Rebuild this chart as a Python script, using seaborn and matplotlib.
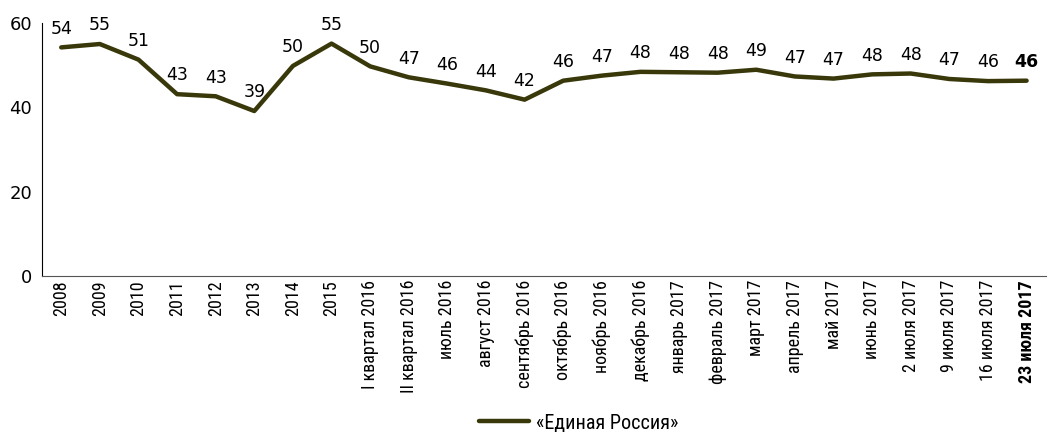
import pandas as pd
import seaborn as sns
import matplotlib.pyplot as plt
import numpy as np

# Данные
periods = ["2008", "2009", "2010", "2011", "2012", "2013", "2014", "2015",
           "I квартал 2016", "II квартал 2016", "июль 2016", "август 2016",
           "сентябрь 2016", "октябрь 2016", "ноябрь 2016", "декабрь 2016",
           "январь 2017", "февраль 2017", "март 2017", "апрель 2017", "май 2017",
           "июнь 2017", "2 июля 2017", "9 июля 2017", "16 июля 2017", "23 июля 2017"]
values = [54.2, 55.0, 51.3, 43.1, 42.6, 39.1, 49.8, 55.1, 49.7, 47.1, 45.6, 44.0,
          41.8, 46.3, 47.5, 48.4, 48.3, 48.2, 48.9, 47.3, 46.8, 47.8, 48.0, 46.7,
          46.2, 46.3]
labels = [54, 55, 51, 43, 43, 39, 50, 55, 50, 47, 46, 44, 42, 46, 47, 48, 48, 48,
          49, 47, 47, 48, 48, 47, 46, 46]

df = pd.DataFrame({"period": periods, "value": values})

sns.set_style("white")
plt.rcParams['font.family'] = ['Roboto Condensed', 'Fira Sans Condensed', 'DejaVu Sans']
plt.rcParams['text.color'] = 'black'
plt.rcParams['xtick.color'] = 'black'
plt.rcParams['ytick.color'] = 'black'

fig = plt.figure(figsize=(10.48, 4.33), dpi=100)
ax = fig.add_axes([0.040, 0.363, 0.958, 0.584])

line_color = "#38380a"
sns.lineplot(data=df, x="period", y="value", sort=False, color=line_color,
             linewidth=3.2, ax=ax, label="«Единая Россия»")

# подписи значений
for i, (v, lab) in enumerate(zip(values, labels)):
    bold = i == len(values) - 1
    ax.annotate(str(lab), (i, v), xytext=(0, 7), textcoords="offset points",
                ha="center", va="bottom", fontsize=12.5,
                fontweight="bold" if bold else "normal",
                family=['DejaVu Sans'])

ax.set_ylim(0, 60)
ax.set_xlim(-0.5, len(periods) - 0.5)
ax.set_yticks([0, 20, 40, 60])
ax.set_xticks(range(len(periods)))
ax.set_xticklabels(periods, rotation=90, fontsize=13)
ax.get_xticklabels()[-1].set_fontweight("bold")
ax.set_xticks(np.arange(-0.5, len(periods), 1), minor=True)
ax.tick_params(axis="x", which="major", length=0, pad=3)
ax.tick_params(axis="x", which="minor", length=4, width=1, color="#333333")
ax.tick_params(axis="y", length=5, width=1, labelsize=13, pad=2)
for lab in ax.get_yticklabels():
    lab.set_family(['DejaVu Sans'])
ax.set_xlabel("")
ax.set_ylabel("")

sns.despine(ax=ax)
ax.spines["left"].set_color("black")
ax.spines["bottom"].set_color("#555555")

ax.legend(loc="center", bbox_to_anchor=(0.552, 0.023), bbox_transform=fig.transFigure,
          frameon=False, fontsize=14.5, handlelength=2.5, handletextpad=0.3)

plt.savefig("out.png", dpi=100)
